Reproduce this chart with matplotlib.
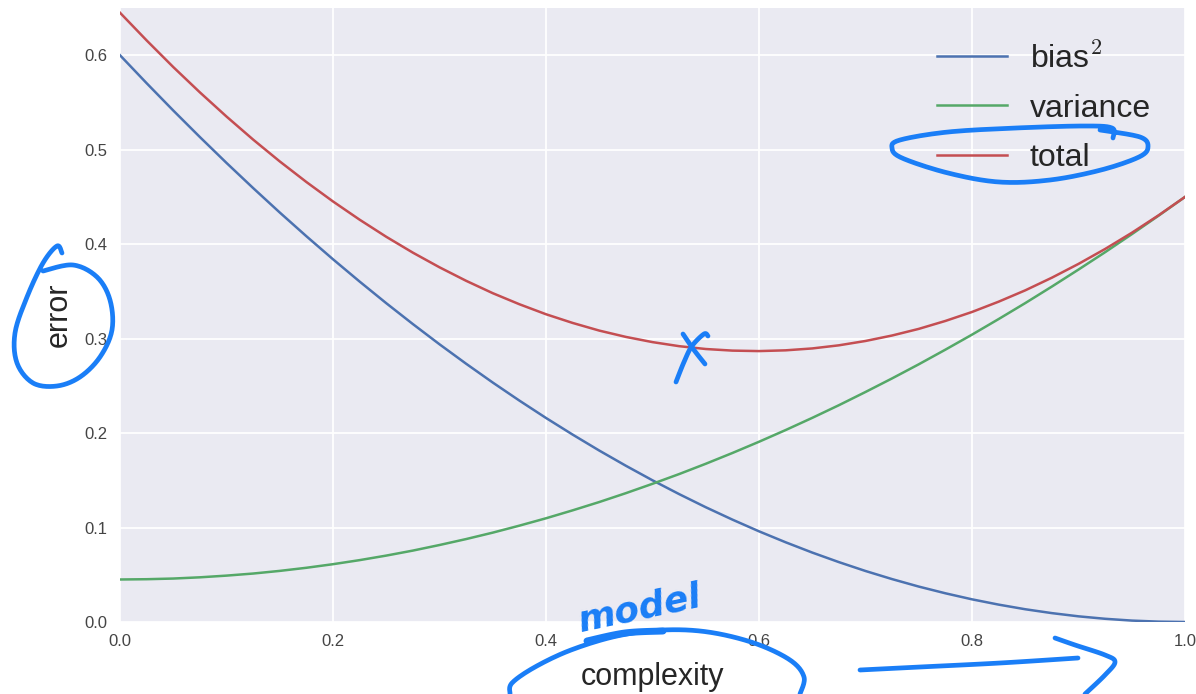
import numpy as np
import matplotlib
matplotlib.use('Agg')
import matplotlib.pyplot as plt

# values, complexity step 0.025
complexity = [0.000, 0.025, 0.050, 0.075, 0.100, 0.125, 0.150, 0.175, 0.200, 0.225,
              0.250, 0.275, 0.300, 0.325, 0.350, 0.375, 0.400, 0.425, 0.450, 0.475,
              0.500, 0.525, 0.550, 0.575, 0.600, 0.625, 0.650, 0.675, 0.700, 0.725,
              0.750, 0.775, 0.800, 0.825, 0.850, 0.875, 0.900, 0.925, 0.950, 0.975, 1.000]
bias_sq = [0.6000, 0.5704, 0.5415, 0.5134, 0.4860, 0.4594, 0.4335, 0.4084, 0.3840, 0.3604,
           0.3375, 0.3154, 0.2940, 0.2734, 0.2535, 0.2344, 0.2160, 0.1984, 0.1815, 0.1654,
           0.1500, 0.1354, 0.1215, 0.1084, 0.0960, 0.0844, 0.0735, 0.0634, 0.0540, 0.0454,
           0.0375, 0.0304, 0.0240, 0.0184, 0.0135, 0.0094, 0.0060, 0.0034, 0.0015, 0.0004,
           0.0000]
variance = [0.0450, 0.0453, 0.0460, 0.0473, 0.0491, 0.0513, 0.0541, 0.0574, 0.0612, 0.0655,
            0.0703, 0.0756, 0.0815, 0.0878, 0.0946, 0.1020, 0.1098, 0.1182, 0.1270, 0.1364,
            0.1463, 0.1566, 0.1675, 0.1789, 0.1908, 0.2032, 0.2161, 0.2295, 0.2435, 0.2579,
            0.2728, 0.2883, 0.3042, 0.3207, 0.3376, 0.3551, 0.3731, 0.3915, 0.4105, 0.4300,
            0.4500]
total = [0.6450, 0.6157, 0.5875, 0.5607, 0.5351, 0.5107, 0.4876, 0.4658, 0.4452, 0.4259,
         0.4078, 0.3910, 0.3755, 0.3612, 0.3481, 0.3364, 0.3258, 0.3166, 0.3085, 0.3018,
         0.2963, 0.2920, 0.2890, 0.2873, 0.2868, 0.2876, 0.2896, 0.2929, 0.2975, 0.3033,
         0.3103, 0.3187, 0.3282, 0.3391, 0.3511, 0.3645, 0.3791, 0.3949, 0.4120, 0.4304,
         0.4500]
xticks = [0.0, 0.2, 0.4, 0.6, 0.8, 1.0]
yticks = [0.0, 0.1, 0.2, 0.3, 0.4, 0.5, 0.6]

plt.rcParams['font.family'] = ['Liberation Sans', 'DejaVu Sans']
plt.rcParams['mathtext.fontset'] = 'cm'

fig = plt.figure(figsize=(11.96, 6.94), dpi=100)
ax = fig.add_axes([120 / 1196, 72 / 694, 1065 / 1196, 614 / 694])
ax.set_facecolor('#EAEAF2')
for s in ax.spines.values():
    s.set_visible(False)
ax.grid(True, color='white', linewidth=1.3)
ax.set_axisbelow(True)

ax.plot(complexity, bias_sq, color='#4C72B0', lw=1.8, label=r'bias$^2$')
ax.plot(complexity, variance, color='#55A868', lw=1.8, label='variance')
ax.plot(complexity, total, color='#C44E52', lw=1.8, label='total')

ax.set_xlim(0, 1)
ax.set_ylim(0, 0.65)
ax.set_xticks(xticks)
ax.set_yticks(yticks)
ax.tick_params(length=0, pad=9, labelsize=12, labelcolor='#444444')
ax.set_xlabel('complexity', fontsize=22, color='#262626', labelpad=9)
ax.set_ylabel('error', fontsize=22, color='#262626', labelpad=8)
ax.legend(loc='upper right', bbox_to_anchor=(0.995, 0.99), frameon=False, fontsize=23,
          handlelength=2.2, handletextpad=0.7, labelspacing=0.6, labelcolor='#262626')


def smooth(pts, n=14):
    p = np.array(pts, float)
    p = np.vstack([p[0], p, p[-1]])
    out = []
    t = np.linspace(0, 1, n, endpoint=False)[:, None]
    for i in range(1, len(p) - 2):
        p0, p1, p2, p3 = p[i - 1], p[i], p[i + 1], p[i + 2]
        out.append(0.5 * (2 * p1 + (-p0 + p2) * t + (2 * p0 - 5 * p1 + 4 * p2 - p3) * t ** 2
                          + (-p0 + 3 * p1 - 3 * p2 + p3) * t ** 3))
    out.append(p[-2][None])
    return np.vstack(out)


# hand-drawn blue ink overlay, in figure pixels
ov = fig.add_axes([0, 0, 1, 1])
ov.set_xlim(0, 1196)
ov.set_ylim(694, 0)
ov.axis('off')
ov.patch.set_alpha(0)
ink = '#1A7EF7'

strokes = [
    # loop round "total"
    [(1113, 138), (1112, 128), (1084, 126), (1016, 128), (948, 132), (900, 140), (892, 148),
     (902, 158), (948, 173), (999, 182), (1050, 180), (1101, 170), (1139, 157), (1148, 147),
     (1140, 137), (1100, 130)],
    # loop round "error"
    [(62, 253), (57, 246), (43, 263), (27, 297), (15, 333), (17, 363), (33, 383), (57, 386),
     (80, 377), (100, 357), (112, 330), (110, 300), (97, 277), (73, 265), (43, 271)],
    # the X
    [(676, 382), (684, 362), (692, 346), (704, 334), (708, 336)],
    [(683, 334), (694, 350), (705, 364)],
    # loop round "complexity"
    [(510, 694), (512, 683), (535, 667), (571, 650), (617, 636), (663, 630), (708, 632),
     (754, 643), (790, 660), (804, 677), (800, 694)],
    # arrow
    [(860, 670), (920, 667), (1000, 663), (1078, 658)],
    [(1055, 638), (1075, 645), (1105, 655), (1115, 662), (1105, 675), (1085, 694)],
]
for st in strokes:
    xy = smooth(st)
    ov.plot(xy[:, 0], xy[:, 1], color=ink, lw=3.4, solid_capstyle='round',
            solid_joinstyle='round')
xy = smooth([(587, 641), (625, 633), (663, 631)])
ov.plot(xy[:, 0], xy[:, 1], color=ink, lw=5, solid_capstyle='round')
ov.text(640, 609, 'model', color=ink, fontsize=26, style='italic', rotation=12,
        ha='center', va='center', family=['DejaVu Sans'], fontweight='bold')

fig.savefig('out.png', dpi=100)
